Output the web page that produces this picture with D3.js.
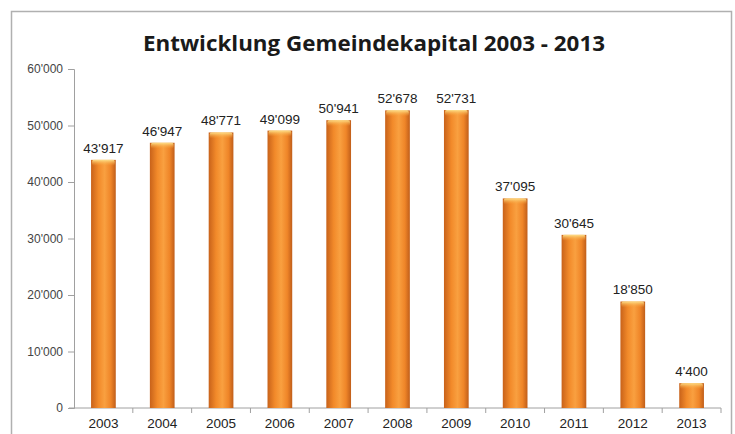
<!DOCTYPE html>
<html>
<head>
<meta charset="utf-8">
<script src="https://cdn.jsdelivr.net/npm/d3@7"></script>
<style>
  body { margin: 0; background: #fff; }
  svg { display: block; }
</style>
</head>
<body>
<div id="chart"></div>
<script>
// Data
const years = ["2003", "2004", "2005", "2006", "2007", "2008", "2009", "2010", "2011", "2012", "2013"];
const capital = [43917, 46947, 48771, 49099, 50941, 52678, 52731, 37095, 30645, 18850, 4400];
const yTicks = [0, 10000, 20000, 30000, 40000, 50000, 60000];

const width = 735, height = 434;
const margin = { top: 69, right: 14, bottom: 26, left: 74 };

const swiss = d3.formatLocale({ decimal: ".", thousands: "'", grouping: [3], currency: ["", ""] });
const fmt = swiss.format(",");

const svg = d3.select("#chart").append("svg")
  .attr("width", width)
  .attr("height", height);

// Gradients for the bars
const defs = svg.append("defs");
const side = defs.append("linearGradient").attr("id", "barSide")
  .attr("x1", "0%").attr("x2", "100%").attr("y1", "0%").attr("y2", "0%");
side.append("stop").attr("offset", "0%").attr("stop-color", "#c8621a");
side.append("stop").attr("offset", "30%").attr("stop-color", "#f28a2a");
side.append("stop").attr("offset", "55%").attr("stop-color", "#f9a040");
side.append("stop").attr("offset", "80%").attr("stop-color", "#ef8528");
side.append("stop").attr("offset", "100%").attr("stop-color", "#c05e1a");

const cap = defs.append("linearGradient").attr("id", "barCap")
  .attr("x1", "0%").attr("x2", "0%").attr("y1", "0%").attr("y2", "100%");
cap.append("stop").attr("offset", "0%").attr("stop-color", "#fde08a");
cap.append("stop").attr("offset", "100%").attr("stop-color", "#f7a23a").attr("stop-opacity", 0);

// Outer frame
svg.append("rect")
  .attr("x", 11.5).attr("y", 11.5)
  .attr("width", 720).attr("height", 440)
  .attr("fill", "none")
  .attr("stroke", "#b0b0b0")
  .attr("stroke-width", 1.5);

// Title
svg.append("text")
  .attr("x", 374)
  .attr("y", 51)
  .attr("text-anchor", "middle")
  .style("font-family", "'Open Sans', sans-serif")
  .style("font-weight", "700")
  .style("font-size", "21px")
  .style("fill", "#1a1a1a")
  .attr("textLength", 462)
  .attr("lengthAdjust", "spacingAndGlyphs")
  .text("Entwicklung Gemeindekapital 2003 - 2013");

const x = d3.scaleBand()
  .domain(years)
  .range([margin.left, width - margin.right])
  .paddingInner(0.58)
  .paddingOuter(0.29);

const y = d3.scaleLinear()
  .domain([0, 60000])
  .range([height - margin.bottom, margin.top]);

// Y axis
const yAxis = svg.append("g")
  .attr("transform", `translate(${margin.left},0)`)
  .call(d3.axisLeft(y).tickValues(yTicks).tickFormat(fmt).tickSize(6).tickPadding(5));
yAxis.select(".domain").attr("stroke", "#a0a0a0");
yAxis.selectAll(".tick line").attr("stroke", "#a0a0a0");
yAxis.selectAll("text")
  .style("font-family", "'Liberation Sans', Arial, sans-serif")
  .style("font-size", "12px")
  .style("fill", "#444");

// X axis: ticks sit between categories
const step = x.step();
const xAxisG = svg.append("g")
  .attr("transform", `translate(0,${y(0)})`);
xAxisG.append("line")
  .attr("x1", margin.left - 5).attr("x2", width - margin.right)
  .attr("stroke", "#a0a0a0");
xAxisG.selectAll(".xtick")
  .data(years)
  .enter().append("line")
  .attr("class", "xtick")
  .attr("x1", d => x(d) + x.bandwidth() / 2 + step / 2)
  .attr("x2", d => x(d) + x.bandwidth() / 2 + step / 2)
  .attr("y1", 0).attr("y2", 5)
  .attr("stroke", "#a0a0a0");
xAxisG.selectAll(".xlabel")
  .data(years)
  .enter().append("text")
  .attr("class", "xlabel")
  .attr("x", d => x(d) + x.bandwidth() / 2)
  .attr("y", 20)
  .attr("text-anchor", "middle")
  .style("font-family", "'Liberation Sans', Arial, sans-serif")
  .style("font-size", "13.5px")
  .style("fill", "#222")
  .text(d => d);

// Bars
const rows = years.map((yr, i) => ({ year: yr, value: capital[i] }));

const bars = svg.selectAll(".bar")
  .data(rows)
  .enter().append("g")
  .attr("class", "bar");

bars.append("rect")
  .attr("x", d => x(d.year))
  .attr("y", d => y(d.value))
  .attr("width", x.bandwidth())
  .attr("height", d => y(0) - y(d.value))
  .attr("fill", "url(#barSide)");

bars.append("rect")
  .attr("x", d => x(d.year) + 1)
  .attr("y", d => y(d.value))
  .attr("width", x.bandwidth() - 2)
  .attr("height", 6)
  .attr("rx", 2)
  .attr("fill", "url(#barCap)");

// Value labels
bars.append("text")
  .attr("x", d => x(d.year) + x.bandwidth() / 2)
  .attr("y", d => y(d.value) - 7)
  .attr("text-anchor", "middle")
  .style("font-family", "'Liberation Sans', Arial, sans-serif")
  .style("font-size", "13.5px")
  .style("fill", "#222")
  .text(d => fmt(d.value));
</script>
</body>
</html>
